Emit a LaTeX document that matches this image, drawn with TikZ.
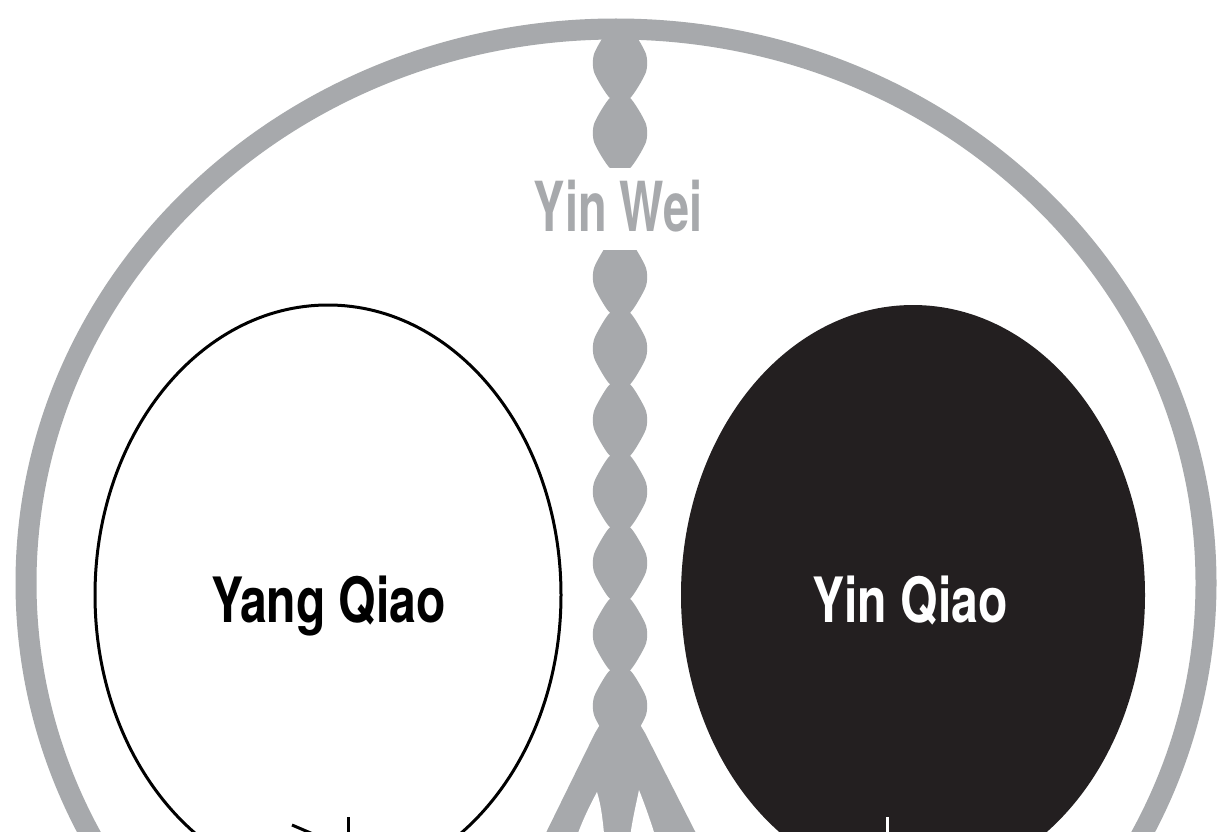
\documentclass[tikz,border=0pt]{standalone}
\usepackage{fontspec}
\usepackage{graphicx}
\newfontfamily\heros{TeX Gyre Heros}
\definecolor{ringgray}{RGB}{167,169,172}
\definecolor{inkblack}{RGB}{35,31,32}
\tikzset{
  ring/.style={draw=ringgray,line width=21pt},
  chain/.style={fill=ringgray},
  yangel/.style={draw=black,line width=3pt,fill=white},
  yinel/.style={fill=inkblack},
  lbl/.style={inner sep=0pt,anchor=base,font=\heros\bfseries}
}
% bead centred at y=#1 with half height #2
\newcommand\beadshape[2]{%
  \fill[chain] (610,{#1-#2}) -- (630,{#1-#2})
    .. controls (633,{#1-#2+2}) and (644,{#1-15}) .. (646,{#1-9})
    .. controls (647.6,{#1-4}) and (647.6,{#1+4}) .. (646,{#1+9})
    .. controls (644,{#1+15}) and (633,{#1+#2-2}) .. (630,{#1+#2})
    -- (610,{#1+#2})
    .. controls (607,{#1+#2-2}) and (596,{#1+15}) .. (594,{#1+9})
    .. controls (592.4,{#1+4}) and (592.4,{#1-4}) .. (594,{#1-9})
    .. controls (596,{#1-15}) and (607,{#1-#2+2}) .. (610,{#1-#2}) -- cycle;}
\begin{document}
\begin{tikzpicture}[x=1pt,y=-1pt]
\useasboundingbox (0,0) rectangle (1219,832);
\clip (0,0) rectangle (1219,832);
\fill[white] (0,0) rectangle (1219,832);
% outer ring
\draw[ring] (616,583) ellipse [x radius=590pt, y radius=554pt];
% upper chain
\beadshape{63}{35}
\beadshape{133}{35}
\fill[chain] (610,28) rectangle (630,166);
% lower chain
\foreach \yc in {277,348.5,420,491.5,563,634.5,706} {\beadshape{\yc}{35.75}}
\fill[chain] (610,241) rectangle (630,742);
\fill[white] (585,236) rectangle (655,250);
% trunk and branches
\fill[chain] (604,718) -- (636,718) .. controls (641,725) .. (645,733)
  -- (702,845) -- (540,845) -- (595,733) .. controls (599,725) .. cycle;
\fill[white] (597,792) .. controls (590,805) and (580,825) .. (574,845)
  -- (605,845) .. controls (603,820) and (601,805) .. (597,792) -- cycle;
\fill[white] (639,790) .. controls (636,805) and (632,820) .. (629,845)
  -- (658,845) .. controls (652,825) and (645,805) .. (639,790) -- cycle;
% Qiao vessels
\draw[yangel] (328,595) ellipse [x radius=233pt, y radius=290pt];
\fill[yinel] (913,595) ellipse [x radius=232pt, y radius=290pt];
% small strokes at the bottom
\draw[line width=3pt,black] (292,825) -- (313,834);
\draw[line width=3pt,black] (348,817) -- (348,836);
\draw[line width=3pt,white] (887,817) -- (887,836);
% labels
\node[lbl,text=ringgray] (yinwei) at (618,232) {\fontsize{69}{69}\selectfont\scalebox{0.68}[1]{Yin Wei}};
\node[lbl,text=black] (yangqiao) at (328.5,622) {\fontsize{62.5}{62.5}\selectfont\scalebox{0.77}[1]{Yang Qiao}};
\node[lbl,text=white] (yinqiao) at (910,622) {\fontsize{62.5}{62.5}\selectfont\scalebox{0.77}[1]{Yin Qiao}};
\end{tikzpicture}
\end{document}
